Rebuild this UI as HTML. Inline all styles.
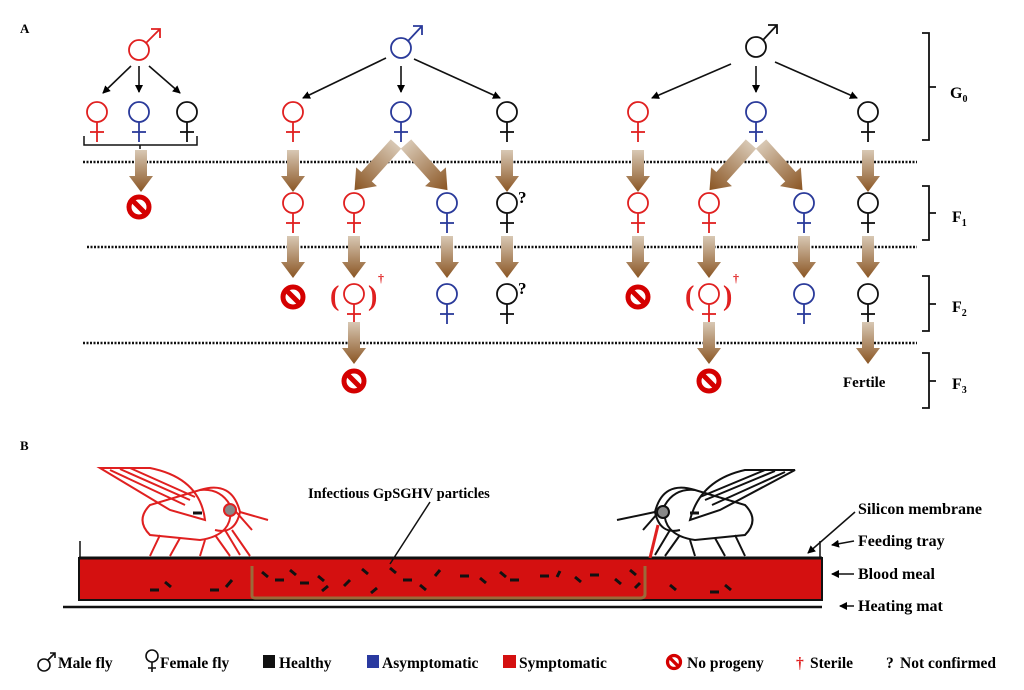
<!DOCTYPE html>
<html><head><meta charset="utf-8"><style>
body{margin:0;background:#fff}
svg{display:block}
text{font-family:"Liberation Serif",serif;font-weight:bold}
</style></head><body>
<svg width="1024" height="690" viewBox="0 0 1024 690" xmlns="http://www.w3.org/2000/svg">
<defs>
<linearGradient id="bg" x1="0" y1="0" x2="0" y2="1"><stop offset="0" stop-color="#d8c8b4"/><stop offset="1" stop-color="#8a5523"/></linearGradient>
<marker id="ah" markerWidth="8" markerHeight="8" refX="7" refY="4" orient="auto" markerUnits="userSpaceOnUse"><path d="M0,0 L8,4 L0,8 z" fill="#000"/></marker>
<g id="ba"><path d="M-6,0 L6,0 L6,26 L12,26 L0,42 L-12,26 L-6,26 z" fill="url(#bg)"/></g>
<g id="bd"><path d="M-7,0 L7,0 L7,44 L14,44 L0,62 L-14,44 L-7,44 z" fill="url(#bg)"/></g>
<g id="no"><circle r="10" fill="none" stroke="#d40000" stroke-width="5"/><line x1="-7" y1="-7" x2="7" y2="7" stroke="#d40000" stroke-width="5"/></g>
<g id="fr" fill="none" stroke="#e02020" stroke-width="1.8"><circle r="10"/><line x1="0" y1="10" x2="0" y2="30"/><line x1="-7" y1="20" x2="7" y2="20"/></g>
<g id="fb" fill="none" stroke="#2a3a9a" stroke-width="1.8"><circle r="10"/><line x1="0" y1="10" x2="0" y2="30"/><line x1="-7" y1="20" x2="7" y2="20"/></g>
<g id="fk" fill="none" stroke="#111" stroke-width="1.8"><circle r="10"/><line x1="0" y1="10" x2="0" y2="30"/><line x1="-7" y1="20" x2="7" y2="20"/></g>
</defs>
<text x="20" y="33" font-size="13">A</text>
<g stroke="#111" stroke-width="2.5" stroke-dasharray="2,1.5">
<line x1="83" y1="162" x2="917" y2="162"/>
<line x1="87" y1="247" x2="917" y2="247"/>
<line x1="83" y1="343" x2="917" y2="343"/>
</g>
<g fill="none" stroke="#111" stroke-width="1.8">
<path d="M922,33 H929 V140 H922 M929,87 H936"/>
<path d="M922,186 H929 V240 H922 M929,213 H936"/>
<path d="M922,276 H929 V331 H922 M929,304 H936"/>
<path d="M922,353 H929 V408 H922 M929,381 H936"/>
</g>
<text x="950" y="98" font-size="16">G<tspan font-size="10" dy="4">0</tspan></text>
<text x="952" y="222" font-size="16">F<tspan font-size="10" dy="4">1</tspan></text>
<text x="952" y="312" font-size="16">F<tspan font-size="10" dy="4">2</tspan></text>
<text x="952" y="389" font-size="16">F<tspan font-size="10" dy="4">3</tspan></text>
<g fill="none" stroke-width="1.8">
<g stroke="#e02020"><circle cx="139" cy="50" r="10"/><path d="M146,43 L160,29 M151,29 H160 V38"/></g>
<g stroke="#2a3a9a"><circle cx="401" cy="48" r="10"/><path d="M408,41 L422,26 M413,26 H422 V35"/></g>
<g stroke="#111"><circle cx="756" cy="47" r="10"/><path d="M763,40 L777,25 M768,25 H777 V34"/></g>
</g>
<g stroke="#111" stroke-width="1.6" marker-end="url(#ah)">
<line x1="131" y1="66" x2="103" y2="93"/><line x1="139" y1="66" x2="139" y2="92"/><line x1="149" y1="66" x2="180" y2="93"/>
<line x1="386" y1="58" x2="303" y2="98"/><line x1="401" y1="66" x2="401" y2="92"/><line x1="414" y1="59" x2="500" y2="98"/>
<line x1="731" y1="64" x2="652" y2="98"/><line x1="756" y1="66" x2="756" y2="92"/><line x1="775" y1="62" x2="857" y2="98"/>
</g>
<use href="#fr" x="97" y="112"/><use href="#fb" x="139" y="112"/><use href="#fk" x="187" y="112"/>
<use href="#fr" x="293" y="112"/><use href="#fb" x="401" y="112"/><use href="#fk" x="507" y="112"/>
<use href="#fr" x="638" y="112"/><use href="#fb" x="756" y="112"/><use href="#fk" x="868" y="112"/>
<path d="M84,136 V145 H197 V136 M140,145 V149" fill="none" stroke="#111" stroke-width="1.5"/>
<use href="#ba" x="141" y="150"/><use href="#no" x="139" y="207"/>
<!-- group 2 -->
<use href="#ba" x="293" y="150"/><use href="#fr" x="293" y="203"/>
<use href="#ba" x="293" y="236"/><use href="#no" x="293" y="297"/>
<use href="#bd" transform="translate(396,144) rotate(42)"/>
<use href="#bd" transform="translate(406,144) rotate(-42)"/>
<use href="#fr" x="354" y="203"/><use href="#fb" x="447" y="203"/>
<use href="#ba" x="354" y="236"/><use href="#ba" x="447" y="236"/>
<use href="#fr" x="354" y="294"/><use href="#fb" x="447" y="294"/>
<text x="330" y="305" font-size="28" fill="#e02020" font-weight="normal">(</text><text x="368" y="305" font-size="28" fill="#e02020" font-weight="normal">)</text>
<text x="378" y="282" font-size="12" fill="#e02020">†</text>
<use href="#ba" x="354" y="322"/><use href="#no" x="354" y="381"/>
<use href="#ba" x="507" y="150"/><use href="#fk" x="507" y="203"/>
<text x="518" y="203" font-size="17">?</text>
<use href="#ba" x="507" y="236"/><use href="#fk" x="507" y="294"/>
<text x="518" y="294" font-size="17">?</text>
<!-- group 3 -->
<use href="#ba" x="638" y="150"/><use href="#fr" x="638" y="203"/>
<use href="#ba" x="638" y="236"/><use href="#no" x="638" y="297"/>
<use href="#bd" transform="translate(751,144) rotate(42)"/>
<use href="#bd" transform="translate(761,144) rotate(-42)"/>
<use href="#fr" x="709" y="203"/><use href="#fb" x="804" y="203"/>
<use href="#ba" x="709" y="236"/><use href="#ba" x="804" y="236"/>
<use href="#fr" x="709" y="294"/><use href="#fb" x="804" y="294"/>
<text x="685" y="305" font-size="28" fill="#e02020" font-weight="normal">(</text><text x="723" y="305" font-size="28" fill="#e02020" font-weight="normal">)</text>
<text x="733" y="282" font-size="12" fill="#e02020">†</text>
<use href="#ba" x="709" y="322"/><use href="#no" x="709" y="381"/>
<use href="#ba" x="868" y="150"/><use href="#fk" x="868" y="203"/>
<use href="#ba" x="868" y="236"/><use href="#fk" x="868" y="294"/>
<use href="#ba" x="868" y="322"/>
<text x="843" y="387" font-size="15">Fertile</text>

<!-- Part B -->
<text x="20" y="450" font-size="13">B</text>
<rect x="79" y="558" width="743" height="42" fill="#d41010" stroke="#111" stroke-width="2"/>
<line x1="79" y1="558" x2="822" y2="558" stroke="#111" stroke-width="3"/>
<path d="M80,558 V541 M820,558 V541" stroke="#111" stroke-width="1.5"/>
<line x1="63" y1="607" x2="822" y2="607" stroke="#111" stroke-width="2.5"/>
<path d="M252,566 V596 Q252,598 256,598 H640 Q645,598 645,594 V566" fill="none" stroke="#9b6a3a" stroke-width="3"/>
<g stroke="#111" stroke-width="3">
<path d="M150,590h9 M165,582l6,5 M210,590h9 M232,580l-6,7 M262,572l6,5 M275,580h9 M290,570l6,5 M300,583h9 M318,576l6,5 M328,586l-6,5 M350,580l-6,6 M362,569l6,5 M377,588l-6,5 M390,568l6,5 M403,580h9 M420,585l6,5 M440,570l-5,6 M460,576h9 M480,578l6,5 M500,572l6,5 M510,580h9 M540,576h9 M560,571l-3,6 M575,577l6,5 M590,575h9 M615,579l6,5 M630,570l6,5 M640,583l-5,5 M670,585l6,5 M710,592h9 M725,585l6,5"/>
</g>
<!-- red fly -->
<g fill="none" stroke="#e02020" stroke-width="2">
<path d="M100,468 L170,510 L205,520 Q200,478 150,468 Z"/>
<path d="M110,470 L185,505 M120,469 L190,500 M130,468 L195,497"/>
<path d="M150,505 Q135,520 150,535 L200,540 Q235,535 230,505 Q220,488 200,490 Z"/>
<path d="M200,490 Q232,480 240,512 Q235,535 215,530"/>
<path d="M160,535 L150,556 M180,538 L170,556 M205,540 L200,556 M215,535 L230,556 M225,530 L240,555"/>
<path d="M240,512 L268,520 M230,505 L252,530 M232,530 L250,556"/>
<circle cx="230" cy="510" r="6" fill="#888"/>
</g>
<line x1="193" y1="513" x2="202" y2="513" stroke="#111" stroke-width="3"/>
<!-- black fly -->
<g fill="none" stroke="#111" stroke-width="2">
<path d="M795,470 L720,510 L690,520 Q700,480 745,470 Z"/>
<path d="M785,472 L712,505 M775,471 L705,500 M765,470 L700,497"/>
<path d="M745,505 Q760,520 745,535 L695,540 Q660,535 665,505 Q675,488 695,490 Z"/>
<path d="M695,490 Q663,480 655,512 Q660,535 680,530"/>
<path d="M735,535 L745,556 M715,538 L725,556 M690,540 L695,556 M680,535 L665,556 M670,530 L655,555"/>
<path d="M655,512 L617,520 M665,505 L643,530"/>
<circle cx="663" cy="512" r="6" fill="#888"/>
</g>
<line x1="690" y1="513" x2="699" y2="513" stroke="#111" stroke-width="3"/>
<path d="M658,525 L650,558" stroke="#e02020" stroke-width="3"/>
<text x="308" y="498" font-size="14.5">Infectious GpSGHV particles</text>
<line x1="430" y1="502" x2="390" y2="564" stroke="#111" stroke-width="1.5"/>
<g font-size="16">
<text x="858" y="514">Silicon membrane</text>
<text x="858" y="546">Feeding tray</text>
<text x="858" y="579">Blood meal</text>
<text x="858" y="611">Heating mat</text>
</g>
<g stroke="#111" stroke-width="1.5" marker-end="url(#ah)">
<line x1="855" y1="512" x2="808" y2="553"/>
<line x1="854" y1="541" x2="832" y2="545"/>
<line x1="854" y1="574" x2="832" y2="574"/>
<line x1="854" y1="606" x2="840" y2="606"/>
</g>
<!-- legend -->
<g font-size="15.5">
<g fill="none" stroke="#111" stroke-width="1.6"><circle cx="44" cy="665" r="6"/><path d="M48,660 L55,653 M50,653 H55 V658"/>
<circle cx="152" cy="656" r="6"/><path d="M152,662 V672 M148,668 H156"/></g>
<text x="58" y="668">Male fly</text>
<text x="160" y="668">Female fly</text>
<rect x="263" y="655" width="12" height="13" fill="#111"/><text x="279" y="668">Healthy</text>
<rect x="367" y="655" width="12" height="13" fill="#2a3aa0"/><text x="382" y="668">Asymptomatic</text>
<rect x="503" y="655" width="13" height="13" fill="#d41010"/><text x="519" y="668">Symptomatic</text>
<g transform="translate(674,662) scale(0.65)"><use href="#no"/></g><text x="687" y="668">No progeny</text>
<text x="796" y="668" fill="#e02020">†</text><text x="810" y="668">Sterile</text>
<text x="886" y="668">?</text><text x="900" y="668">Not confirmed</text>
</g>
</svg>
</body></html>
